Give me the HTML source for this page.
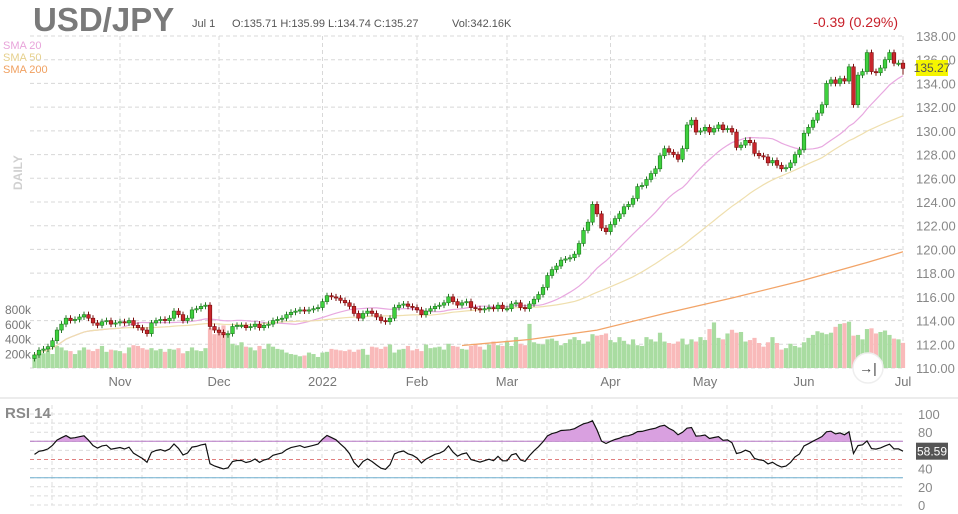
<!DOCTYPE html>
<html><head><meta charset="utf-8"><style>
body{margin:0;background:#fff;overflow:hidden}
svg{display:block;font-family:"Liberation Sans",sans-serif}
</style></head><body>
<svg id="c" width="958" height="514" viewBox="0 0 958 514">
<text x="33" y="31" font-size="33" font-weight="bold" fill="#7a7a7a">USD/JPY</text>
<text x="192" y="27" font-size="11" fill="#555">Jul 1 <tspan x="232">O:135.71  H:135.99  L:134.74  C:135.27</tspan><tspan x="452">Vol:342.16K</tspan></text>
<text x="898" y="27" font-size="14" fill="#c8202a" text-anchor="end">-0.39 (0.29%)</text>
<text x="3" y="49" font-size="11" fill="#e8a4da">SMA 20</text>
<text x="3" y="61" font-size="11" fill="#e6d08c">SMA 50</text>
<text x="3" y="73" font-size="11" fill="#f0a060">SMA 200</text>
<text x="0" y="0" font-size="12" font-weight="bold" fill="#d0d0d0" transform="translate(22,190) rotate(-90)">DAILY</text>
<g id="grid"></g>
<g id="vol"></g>
<g id="sma"></g>
<g id="candles"></g>
<g id="axes"></g>
<line x1="0" y1="398" x2="958" y2="398" stroke="#e6e6e6" stroke-width="1.5"/>
<g id="rsi"></g>
<text x="5" y="418" font-size="15" font-weight="bold" fill="#8a8a8a">RSI 14</text>
<g>
<circle cx="868" cy="368" r="15" fill="#fff" stroke="#eee" stroke-width="1.5"/>
<text x="868" y="373" font-size="14" fill="#444" text-anchor="middle">→|</text>
</g>
<rect x="916" y="60" width="32" height="16" fill="#f5f500"/>
<text x="932" y="72" font-size="12" fill="#555" text-anchor="middle">135.27</text>
</svg>
<script>
const closes=[111.1,111.5,111.6,111.8,112.3,113.2,113.7,114.2,114.0,114.1,114.3,114.5,114.2,113.8,113.6,113.9,114.0,113.7,113.8,
113.9,113.8,114.0,113.6,113.4,113.2,112.9,113.8,114.0,114.1,114.0,114.2,114.8,114.5,114.0,114.2,114.9,115.0,115.2,115.3,113.5,113.2,
113.0,112.8,112.9,113.5,113.6,113.6,113.4,113.5,113.7,113.4,113.6,113.7,114.0,114.1,114.2,114.5,114.7,114.8,114.9,114.8,114.9,115.0,115.1,
115.6,116.1,116.0,115.9,115.7,115.5,115.2,114.6,114.2,114.6,114.8,114.6,114.3,114.0,113.9,114.2,115.1,115.3,115.4,115.2,115.1,
114.9,114.5,114.8,115.0,115.2,115.3,115.5,116.0,115.6,115.3,115.5,115.6,115.1,115.0,114.9,115.0,115.1,115.0,115.3,115.0,
115.0,115.4,115.5,115.1,115.0,115.4,115.8,116.2,116.8,117.8,118.3,118.6,119.1,119.2,119.3,119.6,120.5,121.6,122.3,123.8,123.0,121.8,121.5,
122.1,122.6,123.0,123.6,123.8,124.3,125.3,125.4,125.9,126.4,126.8,127.9,128.5,128.2,128.0,127.6,128.5,130.5,130.9,129.9,130.0,
130.3,129.9,130.2,130.5,130.1,130.2,129.9,128.6,128.8,129.2,129.0,128.1,127.9,127.8,127.3,127.5,127.1,126.8,126.9,127.3,128.0,128.4,
129.8,130.3,130.9,131.5,132.2,134.0,134.3,134.0,134.4,134.2,135.4,132.2,134.7,135.0,136.6,135.0,134.9,135.3,136.0,136.6,135.7,135.71,
135.27];
const volumes=[180,230,200,260,190,300,280,240,230,190,240,280,250,230,260,300,220,250,240,
230,200,280,310,300,270,250,270,240,260,220,260,250,270,200,230,280,240,230,270,540,460,
520,580,460,330,310,350,290,280,240,300,260,330,290,260,250,210,190,180,160,170,210,190,150,
210,220,260,250,240,230,250,220,250,260,180,290,280,260,290,320,210,250,260,300,240,
260,230,320,270,280,290,250,330,300,290,260,250,300,320,290,250,320,360,310,300,
370,300,420,330,310,600,350,330,320,390,400,370,310,340,390,420,380,330,360,460,440,450,470,
380,350,420,370,320,390,310,300,420,390,360,480,360,340,330,360,400,320,390,360,420,
380,530,620,410,390,470,520,480,490,360,380,410,340,290,350,420,340,250,270,330,300,280,
350,410,450,500,480,460,480,560,600,610,630,440,450,390,530,540,470,490,510,450,400,390,
342];
const sma200Idx=[95,110,125,140,155,170,185,193];
const sma200Val=[111.9,112.4,113.2,114.6,115.9,117.3,118.9,119.8];
const monthLabels=["Nov","Dec","2022","Feb","Mar","Apr","May","Jun","Jul"];
const monthIdx=[19,41,64,85,105,128,149,171,193];
const priceTicks=[138,136,134,132,130,128,126,124,122,120,118,116,114,112,110];
const volTicks=[800,600,400,200];
const rsiTicks=[100,80,60,40,20,0];
const rsiSeedGain=0.2, rsiSeedLoss=0.16;

const NS="http://www.w3.org/2000/svg";
function mk(tag,attrs,parent){const e=document.createElementNS(NS,tag);for(const k in attrs)e.setAttribute(k,attrs[k]);parent.appendChild(e);return e;}
const n=closes.length;
const X=i=>903-(n-1-i)*4.5;
const Y=p=>36+(138-p)*11.857;
const VY=v=>368-v*0.0735;
const RY=v=>505-v*0.91;
const G=document.getElementById('grid'),A=document.getElementById('axes');
priceTicks.forEach(p=>{
 const l=mk('line',{x1:30,x2:903,y1:Y(p),y2:Y(p),stroke:'#d8d8d8','stroke-dasharray':'4,3'},G);
 
 
 const t=mk('text',{x:916,y:Y(p)+5,'font-size':13,fill:'#888'},A);t.textContent=p.toFixed(2);
 
 
});
monthIdx.forEach((i,k)=>{
 const l=mk('line',{x1:X(i),x2:X(i),y1:36,y2:368,stroke:'#d8d8d8','stroke-dasharray':'4,3'},G);
 
 
 const t=mk('text',{x:X(i),y:386,'font-size':13,fill:'#777','text-anchor':'middle'},A);t.textContent=monthLabels[k];
 
 
});
volTicks.forEach(v=>{const t=mk('text',{x:5,y:VY(v)+5,'font-size':12,fill:'#777'},A);t.textContent=v+'k';
 
 });
const opens=closes.map((c,i)=>i?closes[i-1]:c-0.3);
const V=document.getElementById('vol');
volumes.forEach((v,i)=>{const up=closes[i]>=opens[i];
 const r=mk('rect',{x:X(i)-2.1,y:VY(v),width:4.2,height:368-VY(v),fill:up?'#a9dca1':'#f9baba'},V);
 
 });
function sma(w){return closes.map((c,i)=>{const s=closes.slice(Math.max(0,i-w+1),i+1);return s.reduce((a,b)=>a+b,0)/s.length;});}
const S=document.getElementById('sma');
[[sma(20),'#e8a8e0','sma20-line'],[sma(50),'#efdfae','sma50-line']].forEach(([arr,col,nm])=>{
 const p=mk('path',{d:arr.map((v,i)=>(i?'L':'M')+X(i).toFixed(1)+','+Y(v).toFixed(1)).join(''),fill:'none',stroke:col,'stroke-width':1.2},S);
 
 });
const p200=mk('path',{d:sma200Idx.map((i,k)=>(k?'L':'M')+X(i).toFixed(1)+','+Y(sma200Val[k]).toFixed(1)).join(''),fill:'none',stroke:'#f2a468','stroke-width':1.3},S);


const C=document.getElementById('candles');
closes.forEach((c,i)=>{const o=opens[i],up=c>=o;
 let hi=Math.max(o,c)+0.25,lo=Math.min(o,c)-0.25;
 if(i===n-1){hi=135.99;lo=134.74;}
 const g=mk('g',{},C);
 
 
 mk('line',{x1:X(i),x2:X(i),y1:Y(hi),y2:Y(lo),stroke:up?'#2a7a2a':'#7a1010','stroke-width':1},g);
 const top=Y(Math.max(o,c)),h=Math.max(1.2,Y(Math.min(o,c))-top);
 mk('rect',{x:X(i)-1.8,y:top,width:3.6,height:h,fill:up?'#3ed03e':'#c8262c',stroke:up?'#1f7a1f':'#7a0c0c','stroke-width':0.6},g);
});
// RSI (Wilder, seeded averages)
const rsi=[];let ag=rsiSeedGain,al=rsiSeedLoss;
rsi.push(100-100/(1+ag/al));
for(let i=1;i<n;i++){const d=closes[i]-closes[i-1];const g=Math.max(d,0),l=Math.max(-d,0);
 ag=(ag*13+g)/14;al=(al*13+l)/14;rsi.push(al===0?100:100-100/(1+ag/al));}
const R=document.getElementById('rsi');
for(let v=100;v>=0;v-=10){const l=mk('line',{x1:30,x2:903,y1:RY(v),y2:RY(v),stroke:'#dcdcdc','stroke-dasharray':'4,3'},R);
 
 }
for(let x=52;x<903;x+=45){const l=mk('line',{x1:x,x2:x,y1:405,y2:505,stroke:'#dcdcdc','stroke-dasharray':'4,3'},R);
 
 }
rsiTicks.forEach(v=>{const t=mk('text',{x:918,y:RY(v)+5,'font-size':13,fill:'#888'},R);t.textContent=v;
 
 });
const ob=mk('line',{x1:30,x2:903,y1:RY(70),y2:RY(70),stroke:'#b070c0','stroke-width':1},R);


const mid=mk('line',{x1:30,x2:903,y1:RY(50),y2:RY(50),stroke:'#e08080','stroke-dasharray':'4,3'},R);


const os=mk('line',{x1:30,x2:903,y1:RY(30),y2:RY(30),stroke:'#70b0d0','stroke-width':1},R);


const cp=mk('clipPath',{id:'above70'},R);mk('rect',{x:0,y:0,width:958,height:RY(70)},cp);
const line=rsi.map((v,i)=>(i?'L':'M')+X(i).toFixed(1)+','+RY(v).toFixed(1)).join('');
const fill=mk('path',{d:line+'L'+X(n-1)+','+RY(70)+'L'+X(0)+','+RY(70)+'Z',fill:'#d9a0e0','clip-path':'url(#above70)'},R);


const rl=mk('path',{d:line,fill:'none',stroke:'#111','stroke-width':1.2},R);


const tag=mk('rect',{x:916,y:RY(58.59)-9,width:32,height:17,fill:'#555'},R);


const tt=mk('text',{x:932,y:RY(58.59)+4,'font-size':12,fill:'#fff','text-anchor':'middle'},R);tt.textContent='58.59';


</script>
</body></html>
